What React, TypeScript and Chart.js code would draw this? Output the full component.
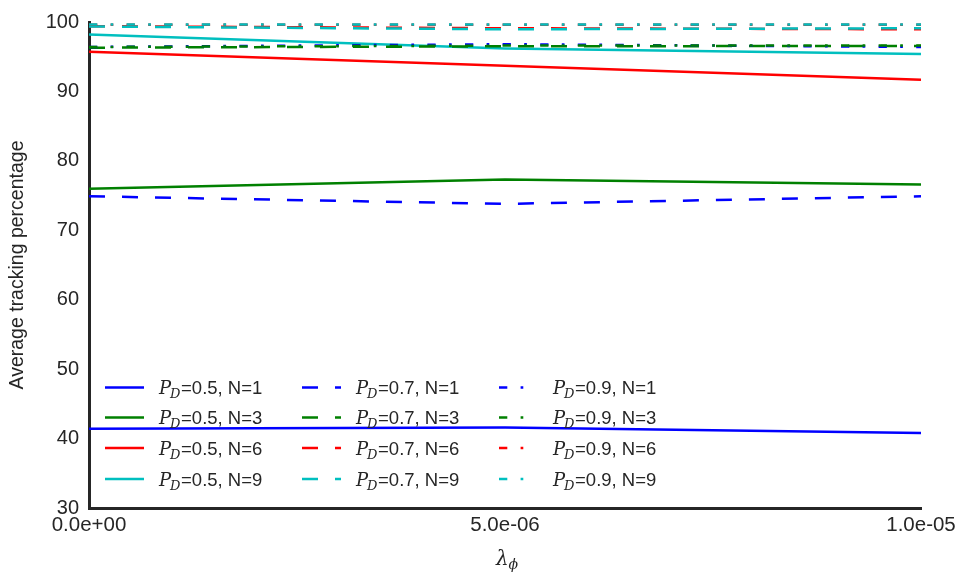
import React, { useEffect, useRef } from "react";
import { Chart, registerables } from "chart.js";

Chart.register(...registerables);

// ---- data ----
const xValues = [0, 5e-6, 1e-5];
const xTickLabels = ["0.0e+00", "5.0e-06", "1.0e-05"];
const yMin = 30;
const yMax = 100;
const yStep = 10;

const pdLabels = ["0.5", "0.7", "0.9"];
const nLabels = [1, 3, 6, 9];

// P_D = 0.5
const pd05_n1 = [41.4, 41.6, 40.8];
const pd05_n3 = [76.0, 77.3, 76.6];
const pd05_n6 = [95.7, 93.7, 91.7];
const pd05_n9 = [98.2, 96.2, 95.4];
// P_D = 0.7
const pd07_n1 = [74.9, 73.8, 74.9];
const pd07_n3 = [96.3, 96.5, 96.55];
const pd07_n6 = [99.4, 99.1, 98.95];
const pd07_n9 = [99.35, 98.95, 99.1];
// P_D = 0.9
const pd09_n1 = [96.4, 96.8, 96.4];
const pd09_n3 = [96.4, 96.6, 96.6];
const pd09_n6 = [99.6, 99.6, 99.6];
const pd09_n9 = [99.65, 99.65, 99.65];

const seriesByPd = [
  [pd05_n1, pd05_n3, pd05_n6, pd05_n9],
  [pd07_n1, pd07_n3, pd07_n6, pd07_n9],
  [pd09_n1, pd09_n3, pd09_n6, pd09_n9],
];

const seriesColors = ["#0000ff", "#008000", "#ff0000", "#00bfbf"];
const dashStyles: number[][] = [[], [16, 17], [8.3, 13.3, 2.7, 13.3]];
const legendSampleLen = [39, 39, 25];

const TEXT = "#262626";
const SANS = '"Liberation Sans", Arial, sans-serif';
const SERIF = '"DejaVu Serif", "Liberation Serif", serif';

function drawPD(ctx: CanvasRenderingContext2D, x: number, y: number, rest: string) {
  ctx.textBaseline = "alphabetic";
  ctx.textAlign = "left";
  ctx.fillStyle = TEXT;
  ctx.font = `italic 18px ${SERIF}`;
  ctx.fillText("P", x, y);
  let cx = x + ctx.measureText("P").width - 1;
  ctx.font = `italic 13px ${SERIF}`;
  ctx.fillText("D", cx, y + 4);
  cx += ctx.measureText("D").width + 0.5;
  ctx.font = `18.5px ${SANS}`;
  ctx.fillText(rest, cx, y);
}

const legendPlugin = {
  id: "customLegend",
  afterDraw(chart: any) {
    const ctx: CanvasRenderingContext2D = chart.ctx;
    const ds = chart.data.datasets;
    const colX = [105, 302, 499];
    const rowY = [387.5, 417.5, 448, 479];
    ctx.save();
    for (let p = 0; p < pdLabels.length; p++) {
      for (let n = 0; n < nLabels.length; n++) {
        const d = ds[p * nLabels.length + n];
        const x0 = colX[p];
        const y0 = rowY[n];
        ctx.beginPath();
        ctx.strokeStyle = d.borderColor;
        ctx.lineWidth = d.borderWidth;
        ctx.lineCap = "butt";
        ctx.setLineDash(d.borderDash || []);
        ctx.lineDashOffset = 0;
        ctx.moveTo(x0, y0);
        ctx.lineTo(x0 + legendSampleLen[p], y0);
        ctx.stroke();
        ctx.setLineDash([]);
        drawPD(ctx, x0 + 54, y0 + 6.5, `=${pdLabels[p]}, N=${nLabels[n]}`);
      }
    }
    // x-axis title: lambda_phi
    const area = chart.chartArea;
    const cx = (area.left + area.right) / 2;
    ctx.fillStyle = TEXT;
    ctx.textAlign = "left";
    ctx.textBaseline = "alphabetic";
    ctx.font = `italic 20px ${SERIF}`;
    const lw = ctx.measureText("λ").width;
    ctx.font = `italic 14px ${SERIF}`;
    const pw = ctx.measureText("ϕ").width;
    const start = cx - (lw + pw) / 2 + 2;
    ctx.font = `italic 20px ${SERIF}`;
    ctx.fillText("λ", start, 565);
    ctx.font = `italic 14px ${SERIF}`;
    ctx.fillText("ϕ", start + lw, 569);
    ctx.restore();
  },
};

export default function App() {
  const ref = useRef<HTMLCanvasElement | null>(null);

  useEffect(() => {
    if (!ref.current) return;
    const datasets: any[] = [];
    const total = pdLabels.length * nLabels.length;
    for (let p = 0; p < pdLabels.length; p++) {
      for (let n = 0; n < nLabels.length; n++) {
        const vals = seriesByPd[p][n];
        const idx = p * nLabels.length + n;
        datasets.push({
          label: `P_D=${pdLabels[p]}, N=${nLabels[n]}`,
          data: xValues.map((x, i) => ({ x, y: vals[i] })),
          borderColor: seriesColors[n],
          backgroundColor: seriesColors[n],
          borderWidth: 2.5,
          borderDash: dashStyles[p],
          pointRadius: 0,
          fill: false,
          tension: 0,
          order: total - idx,
        });
      }
    }
    const chart = new Chart(ref.current, {
      type: "line",
      data: { datasets },
      options: {
        responsive: false,
        animation: false,
        devicePixelRatio: 1,
        layout: { padding: { left: 0, right: 44, top: 20, bottom: 0 } },
        plugins: { legend: { display: false }, tooltip: { enabled: false } },
        scales: {
          x: {
            type: "linear",
            min: xValues[0],
            max: xValues[xValues.length - 1],
            grid: { display: false, drawTicks: false },
            border: { display: true, width: 3, color: TEXT },
            ticks: {
              color: TEXT,
              font: { family: SANS, size: 20.5 },
              padding: 5,
              maxRotation: 0,
              autoSkip: false,
              callback: (_v: any, i: number) => xTickLabels[i],
            },
            afterBuildTicks: (s: any) => {
              s.ticks = xValues.map((v) => ({ value: v }));
            },
            afterFit: (s: any) => {
              s.height = 65;
            },
          },
          y: {
            min: yMin,
            max: yMax,
            grid: { display: false, drawTicks: false },
            border: { display: true, width: 3, color: TEXT },
            ticks: {
              stepSize: yStep,
              color: TEXT,
              font: { family: SANS, size: 20 },
              padding: 10,
            },
            title: {
              display: true,
              text: "Average tracking percentage",
              color: TEXT,
              font: { family: SANS, size: 19.5 },
              padding: { top: 6, bottom: 0 },
            },
            afterFit: (s: any) => {
              s.width = 89;
            },
          },
        },
      },
      plugins: [legendPlugin],
    });
    return () => chart.destroy();
  }, []);

  return (
    <div style={{ position: "fixed", left: 0, top: 0, width: 965, height: 573, background: "#fff" }}>
      <canvas ref={ref} width={965} height={573} style={{ width: 965, height: 573, display: "block" }} />
    </div>
  );
}
